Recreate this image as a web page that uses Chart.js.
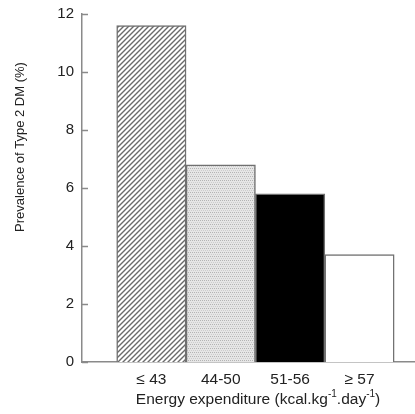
<!DOCTYPE html>
<html>
<head>
<meta charset="utf-8">
<script src="https://cdn.jsdelivr.net/npm/chart.js@4"></script>
<style>
  html, body { margin: 0; padding: 0; background: #fff; }
  canvas { display: block; }
</style>
</head>
<body>
<canvas id="c" width="415" height="414"></canvas>
<script>
// ---- data ----
const categories = ['\u2264 43', '44-50', '51-56', '\u2265 57'];
const prevalence = [11.6, 6.8, 5.8, 3.7];
const yTicks = [0, 2, 4, 6, 8, 10, 12];
const yTitle = 'Prevalence of Type 2 DM (%)';
const xTitleParts = ['Energy expenditure (kcal.kg', '-1', '.day', '-1', ')'];

const FONT = '"Liberation Sans", Arial, Helvetica, sans-serif';
const AXIS = '#8a8a8a';
const TEXT = '#222';

// ---- fill patterns ----
function hatchPattern() {
  const s = 5, c = document.createElement('canvas');
  c.width = s; c.height = s;
  const g = c.getContext('2d');
  g.fillStyle = '#fff'; g.fillRect(0, 0, s, s);
  g.strokeStyle = '#6a6a6a'; g.lineWidth = 1.4;
  g.beginPath();
  g.moveTo(-1, s + 1); g.lineTo(s + 1, -1);
  g.moveTo(-1, 1); g.lineTo(1, -1);
  g.moveTo(s - 1, s + 1); g.lineTo(s + 1, s - 1);
  g.stroke();
  return g.createPattern(c, 'repeat');
}
function dotPattern() {
  const c = document.createElement('canvas');
  c.width = 4; c.height = 4;
  const g = c.getContext('2d');
  g.fillStyle = '#e6e6e6'; g.fillRect(0, 0, 4, 4);
  g.fillStyle = '#b4b4b4';
  g.fillRect(0, 0, 1, 1); g.fillRect(2, 0, 1, 1);
  g.fillStyle = '#cccccc';
  g.fillRect(1, 2, 1, 1); g.fillRect(3, 2, 1, 1);
  return g.createPattern(c, 'repeat');
}
const fills = [hatchPattern(), dotPattern(), '#000000', '#ffffff'];

const points = prevalence.map((v, i) => ({ x: i + 1, y: v }));

// ---- custom drawing: inward y ticks + axis titles ----
const decor = {
  id: 'decor',
  afterDraw(chart) {
    const ctx = chart.ctx, y = chart.scales.y, a = chart.chartArea;
    ctx.save();
    ctx.strokeStyle = AXIS; ctx.lineWidth = 1.5;
    yTicks.forEach(v => {
      const py = Math.round(y.getPixelForValue(v)) + 0.5;
      ctx.beginPath(); ctx.moveTo(a.left, py); ctx.lineTo(a.left + 6, py); ctx.stroke();
    });
    // y title
    ctx.fillStyle = TEXT;
    ctx.font = '13px ' + FONT;
    ctx.translate(20, 147);
    ctx.rotate(-Math.PI / 2);
    ctx.textAlign = 'center'; ctx.textBaseline = 'middle';
    ctx.fillText(yTitle, 0, 0);
    ctx.restore();

    // x title with superscripts
    ctx.save();
    ctx.fillStyle = TEXT;
    ctx.textBaseline = 'alphabetic';
    const big = '15.5px ' + FONT, small = '10px ' + FONT;
    let w = 0;
    xTitleParts.forEach((t, i) => { ctx.font = (i % 2) ? small : big; w += ctx.measureText(t).width; });
    let x = 258 - w / 2;
    const base = 404;
    xTitleParts.forEach((t, i) => {
      ctx.font = (i % 2) ? small : big;
      ctx.fillText(t, x, (i % 2) ? base - 7 : base);
      x += ctx.measureText(t).width;
    });
    ctx.restore();
  }
};

new Chart(document.getElementById('c'), {
  type: 'bar',
  data: {
    datasets: [{
      data: points,
      backgroundColor: fills,
      borderColor: '#707070',
      borderWidth: 1.5,
      borderSkipped: 'bottom',
      categoryPercentage: 1,
      barPercentage: 1
    }]
  },
  options: {
    responsive: false,
    animation: false,
    devicePixelRatio: 1,
    layout: { padding: { top: 14, right: 0, bottom: 0, left: 0 } },
    plugins: { legend: { display: false }, tooltip: { enabled: false } },
    scales: {
      x: {
        type: 'linear',
        offset: false,
        min: 0, max: 4.8,
        afterBuildTicks(s) { s.ticks = s.ticks.filter(t => Number.isInteger(t.value) && t.value >= 1 && t.value <= categories.length); },
        afterFit(s) { s.height = 52; },
        grid: { display: false },
        border: { display: true, color: AXIS, width: 1.5 },
        ticks: {
          stepSize: 1,
          autoSkip: false,
          maxRotation: 0,
          padding: 0,
          color: TEXT,
          font: { family: FONT, size: 15.5 },
          callback: v => categories[v - 1]
        }
      },
      y: {
        min: 0, max: 12,
        afterFit(s) { s.width = 82; },
        grid: { display: false },
        border: { display: true, color: AXIS, width: 1.5 },
        ticks: {
          stepSize: 2,
          padding: 0,
          color: TEXT,
          font: { family: FONT, size: 15 }
        }
      }
    }
  },
  plugins: [decor]
});
</script>
</body>
</html>
